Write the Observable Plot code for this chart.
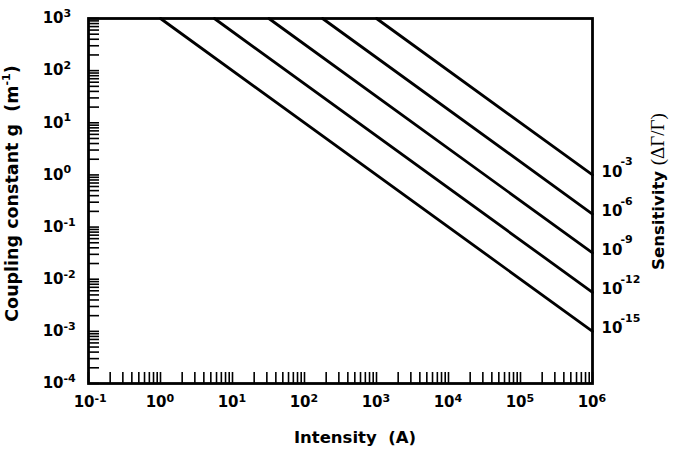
<!DOCTYPE html>
<html><head><meta charset="utf-8">
<script src="https://cdn.jsdelivr.net/npm/d3@7"></script>
<script src="https://cdn.jsdelivr.net/npm/@observablehq/plot@0.6"></script>
<style>body{margin:0;background:#fff}</style>
</head><body><div id="chart"></div>
<script>
// ---- data ----
const sensitivityExp = [-15, -12, -9, -6, -3];          // labels 10^x on the right
const startIntensity = [1, 5.6, 32, 178, 1000];        // intensity where g hits 10^3
const endCoupling = [0.001, 0.0056, 0.032, 0.178, 1];  // g at intensity 10^6
const gTop = 1000;
const iEnd = 1e6;
const xDecades = [-1, 0, 1, 2, 3, 4, 5, 6];
const yDecades = [-4, -3, -2, -1, 0, 1, 2, 3];
const minorMultipliers = [2, 3, 4, 5, 6, 7, 8, 9];
const xTitle = "Intensity  (A)";
const yTitle = ["Coupling constant g  (m", "-1", ")"];
const rTitle = ["Sensitivity ", "(ΔΓ/Γ)"];

// ---- derived tables ----
const minor = (decs) => decs.slice(0, -1).flatMap(k => minorMultipliers.map(m => m * 10 ** k));
const xTicks = [...xDecades.map(k => 10 ** k), ...minor(xDecades)];
const yTicks = [...yDecades.map(k => 10 ** k), ...minor(yDecades)];
const rows = sensitivityExp.flatMap((s, i) => [
  {s, I: startIntensity[i], g: gTop},
  {s, I: iEnd, g: endCoupling[i]}
]);
const ends = sensitivityExp.map((s, i) => ({s, I: iEnd, g: endCoupling[i]}));

const W = 678, H = 462, ML = 88, MR = 86, MT = 18, MB = 79;
const PW = W - ML - MR, PH = H - MT - MB, TL = 11;
const F = "DejaVu Sans";
const plot = Plot.plot({
  width: W, height: H,
  marginLeft: ML, marginRight: MR, marginTop: MT, marginBottom: MB,
  style: {fontFamily: F, background: "#fff", color: "#000"},
  x: {type: "log", domain: [0.1, 1e6], axis: null},
  y: {type: "log", domain: [1e-4, 1e3], axis: null},
  marks: [
    Plot.tickX(xTicks, {x: d => d, insetTop: PH - TL, stroke: "#000", strokeWidth: 1.6}),
    Plot.tickY(yTicks, {y: d => d, insetRight: PW - TL, stroke: "#000", strokeWidth: 1.6}),
    Plot.text(xDecades, {x: d => 10 ** d, frameAnchor: "bottom", text: () => "10", textAnchor: "end", dx: 6, dy: 23, fontSize: 15, fontWeight: "bold"}),
    Plot.text(xDecades, {x: d => 10 ** d, frameAnchor: "bottom", text: d => String(d), textAnchor: "start", dx: 6, dy: 18, fontSize: 11, fontWeight: "bold"}),
    Plot.text(yDecades, {y: d => 10 ** d, frameAnchor: "left", text: () => "10", textAnchor: "end", dx: -25, fontSize: 15, fontWeight: "bold"}),
    Plot.text(yDecades, {y: d => 10 ** d, frameAnchor: "left", text: d => String(d), textAnchor: "start", dx: -25, dy: -5, fontSize: 11, fontWeight: "bold"}),
    Plot.line(rows, {x: "I", y: "g", z: "s", stroke: "#000", strokeWidth: 2.8}),
    Plot.text(ends, {x: "I", y: "g", text: () => "10", textAnchor: "start", dx: 9, dy: -3, fontSize: 15, fontWeight: "bold"}),
    Plot.text(ends, {x: "I", y: "g", text: d => String(d.s), textAnchor: "start", dx: 28, dy: -13, fontSize: 11, fontWeight: "bold"}),
    Plot.frame({stroke: "#000", strokeWidth: 2.8})
  ]
});
document.getElementById("chart").append(plot);

const svg = d3.select(plot);
const x = plot.scale("x"), y = plot.scale("y");
const cx = (x.range[0] + x.range[1]) / 2, cy = (y.range[0] + y.range[1]) / 2;

svg.append("text")
  .attr("x", cx + 15).attr("y", y.range[0] + 54)
  .attr("text-anchor", "middle").attr("dy", "0.35em")
  .style("white-space", "pre").attr("font-size", 16.5).attr("font-weight", "bold")
  .attr("font-family", F).text(xTitle);

const yt = svg.append("text")
  .attr("transform", `translate(${x.range[0] - 76},${cy - 7}) rotate(-90)`)
  .attr("text-anchor", "middle").attr("dy", "0.35em")
  .style("white-space", "pre").attr("font-size", 17.5).attr("font-weight", "bold")
  .attr("font-family", F);
yt.append("tspan").text(yTitle[0]);
yt.append("tspan").attr("font-size", 11).attr("dy", "-0.7em").text(yTitle[1]);
yt.append("tspan").attr("dy", "0.45em").text(yTitle[2]);

const rt = svg.append("text")
  .attr("transform", `translate(${x.range[1] + 66},${cy - 9}) rotate(-90)`)
  .attr("text-anchor", "middle").attr("dy", "0.35em")
  .style("white-space", "pre").attr("font-size", 16.5).attr("font-weight", "bold")
  .attr("font-family", F);
rt.append("tspan").text(rTitle[0]);
rt.append("tspan").attr("font-family", "Liberation Serif").attr("font-weight", "normal").attr("font-size", 19).text(rTitle[1]);
</script>
</body></html>
